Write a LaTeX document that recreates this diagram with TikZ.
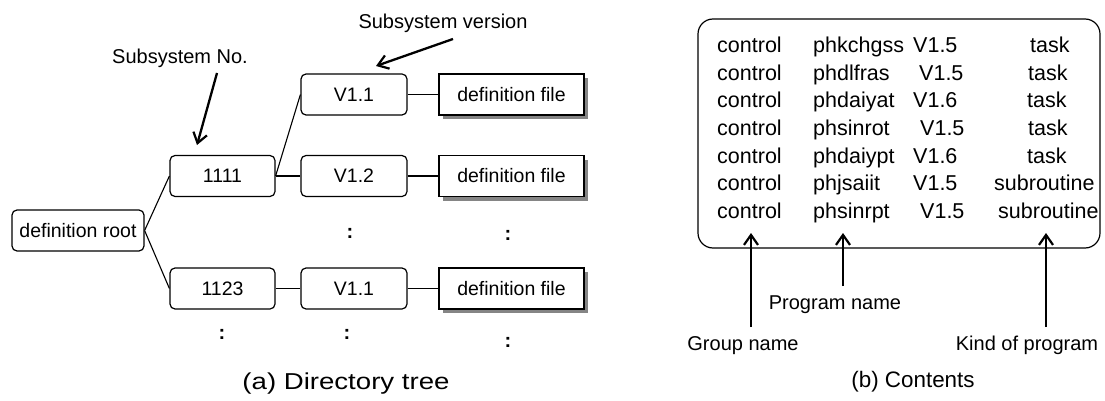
\documentclass[tikz,border=0pt]{standalone}
\usepackage{fontspec}
\usepackage{graphicx}
\setmainfont{Liberation Sans}
\usetikzlibrary{arrows.meta,shadows}

\tikzset{
  lbl/.style={font=\fontsize{20pt}{24pt}\selectfont, inner sep=0pt},
  rbox/.style={draw, line width=1.2pt, rounded corners=5pt, minimum height=41pt,
               minimum width=105pt, inner sep=0pt, font=\fontsize{19.5pt}{24pt}\selectfont},
  filebox/.style={draw, line width=1.2pt, fill=white, minimum height=41pt, minimum width=145pt,
               inner sep=0pt, font=\fontsize{19.5pt}{24pt}\selectfont,
               drop shadow={shadow xshift=4pt, shadow yshift=-4pt, fill=black!48, opacity=1}},
  link/.style={line width=1.1pt},
  dots/.style={font=\fontsize{20pt}{24pt}\selectfont\bfseries, inner sep=0pt},
  callout/.style={line width=2.3pt, -{Straight Barb[length=10pt, width=14pt, line width=2.2pt]}},
  row/.style={anchor=base west, inner sep=0pt, font=\fontsize{21.5pt}{26pt}\selectfont},
}

\begin{document}
\begin{tikzpicture}[x=1pt, y=-1pt]
\useasboundingbox (0,0) rectangle (1105,401);

% ---------- (a) directory tree ----------
\node[rbox, minimum width=132pt] (root) at (78,230.5) {definition root};

\node[rbox] (s1111) at (222.5,176) {1111};
\node[rbox] (s1123) at (222.5,288.5) {1123};

\node[rbox, minimum width=106pt] (v11a) at (354,94.5) {V1.1};
\node[rbox, minimum width=106pt] (v12)  at (354,176)  {V1.2};
\node[rbox, minimum width=106pt] (v11b) at (354,288.5) {V1.1};

\node[filebox] (fa) at (511.5,94.5)  {definition file};
\node[filebox] (fb) at (511.5,176)   {definition file};
\node[filebox] (fc) at (511.5,288.5) {definition file};

\draw[link] (root.east) -- (s1111.west);
\draw[link] (root.east) -- (s1123.west);
\draw[link] (s1111.east) -- (v11a.west);
\draw[link] (s1111.east) -- (v12.west);
\draw[link] (s1123.east) -- (v11b.west);
\draw[link] (v11a.east) -- (fa.west);
\draw[link] (v12.east) -- (fb.west);
\draw[link] (v11b.east) -- (fc.west);

% continuation marks
\node[dots] (d1) at (350,233) {:};
\node[dots] (d2) at (508,235) {:};
\node[dots] (d3) at (222,334) {:};
\node[dots] (d4) at (347,334) {:};
\node[dots] (d5) at (508,342) {:};

% callouts
\node[lbl] (subno) at (180,58) {Subsystem No.};
\coordinate (subnoS) at (217,73);
\coordinate (subnoT) at (197,145);
\draw[callout] (subnoS) -- (subnoT);

\node[lbl] (subver) at (443,23) {Subsystem version};
\coordinate (subverS) at (453,39);
\coordinate (subverT) at (376,66);
\draw[callout] (subverS) -- (subverT);

\node[anchor=base, inner sep=0pt, font=\fontsize{23pt}{27pt}\selectfont] (capa) at (346,389)
  {\scalebox{1.2}[1]{(a) Directory tree}};

% ---------- (b) contents ----------
\draw[line width=1.2pt, rounded corners=15pt] (698,19) rectangle (1100,248);

\foreach \y/\p/\px/\v/\vx/\k/\kx in {
  53/phkchgss/813/V1.5/913/task/1030,
  80.5/phdlfras/813/V1.5/919/task/1028,
  108/phdaiyat/813/V1.6/913/task/1027,
  135.5/phsinrot/813/V1.5/920/task/1028,
  163/phdaiypt/813/V1.6/913/task/1027,
  190.5/phjsaiit/813/V1.5/913/subroutine/994,
  218/phsinrpt/813/V1.5/920/subroutine/998}{
  \node[row] at (717,\y) {control};
  \node[row] at (\px,\y) {\p};
  \node[row] at (\vx,\y) {\v};
  \node[row] at (\kx,\y) {\k};
}

\node[lbl, anchor=base] (grp)  at (743,350) {Group name};
\node[lbl, anchor=base] (prog) at (835,309) {Program name};
\node[lbl, anchor=base] (kind) at (1027,350) {Kind of program};

\coordinate (tipG) at (751,233);
\coordinate (tipP) at (843,233);
\coordinate (tipK) at (1046,233);
\draw[callout] (tipG |- 0,327) -- (tipG);
\draw[callout] (tipP |- 0,286) -- (tipP);
\draw[callout] (tipK |- 0,327) -- (tipK);

\node[anchor=base, inner sep=0pt, font=\fontsize{22.4pt}{26pt}\selectfont] (capb) at (913,387)
  {(b) Contents};
\end{tikzpicture}
\end{document}
